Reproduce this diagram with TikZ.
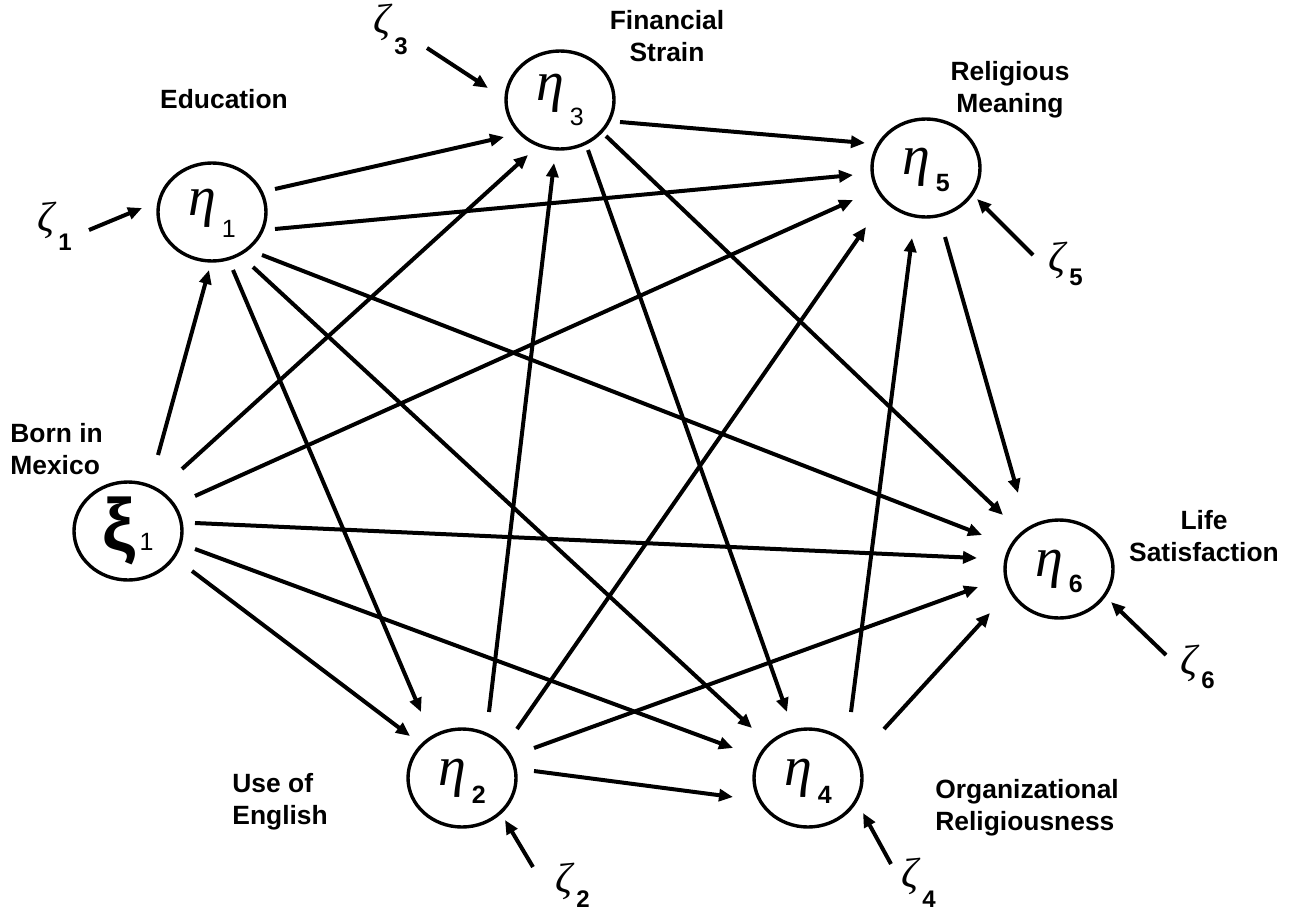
\documentclass[tikz,border=0pt]{standalone}
\usepackage{fontspec}
\setmainfont{Liberation Sans}
\newfontfamily\grk{Liberation Serif}
\usetikzlibrary{arrows.meta,calc,shapes.geometric}

\newcommand{\etav}[3]{\rule{0pt}{#3}{\fontsize{28}{28}\selectfont\grk\itshape η}\kern3pt\raisebox{-#2}{\fontsize{12.5}{12.5}\selectfont #1}}
\newcommand{\zetav}[2]{{\fontsize{21}{21}\selectfont\grk\itshape ζ}\kern2pt\raisebox{-#2}{\fontsize{12}{12}\selectfont\bfseries #1}}

\begin{document}
\begin{tikzpicture}[x=0.5pt,y=-0.5pt,
    latent/.style={draw,ellipse,line width=1.7pt,minimum width=54pt,minimum height=49pt,inner sep=0pt},
    lbl/.style={font=\fontsize{13.2}{16}\selectfont\bfseries,align=center,inner sep=0pt},
    dist/.style={inner sep=0pt,anchor=base west},
    arr/.style={-{Triangle[length=7pt,width=6pt]},line width=2pt}]
    \fill[white] (0,0) rectangle (1304,915);
    \useasboundingbox (0,0) rectangle (1304,915);

    % Latent variables
    \node[latent] (x1) at (128,531) {\rule[-7pt]{0pt}{0pt}{\fontsize{37}{37}\selectfont\bfseries ξ}\kern2pt{\fontsize{12.5}{12.5}\selectfont 1}};
    \node[latent] (e1) at (212,212) {\etav{1}{11pt}{14pt}};
    \node[latent] (e2) at (462,778) {\etav{\bfseries 2}{9pt}{16pt}};
    \node[latent] (e3) at (560,100) {\etav{3}{12.5pt}{10pt}};
    \node[latent] (e4) at (808,778) {\etav{\bfseries 4}{9pt}{16pt}};
    \node[latent] (e5) at (926,168) {\etav{\bfseries 5}{8.5pt}{15.5pt}};
    \node[latent] (e6) at (1059,569) {\etav{\bfseries 6}{8pt}{16pt}};

    % Disturbances
    \node[dist] (z1) at (37,231) {\zetav{1}{9.5pt}};
    \node[dist] (z2) at (555,892) {\zetav{2}{7.5pt}};
    \node[dist] (z3) at (373,34) {\zetav{3}{10.5pt}};
    \node[dist] (z4) at (901,887) {\zetav{4}{10pt}};
    \node[dist] (z5) at (1048,271) {\zetav{5}{7pt}};
    \node[dist] (z6) at (1180,674) {\zetav{6}{7pt}};

    % Names
    \node[lbl] (edu) at (224,99) {Education};
    \node[lbl] (fin) at (667,36) {Financial\\Strain};
    \node[lbl] (rel) at (1010,90) {Religious\\Meaning};
    \node[lbl,align=left,anchor=west] (bor) at (10,449) {Born in\\Mexico};
    \node[lbl,align=left,anchor=west] (eng) at (232,802) {Use of\\English};
    \node[lbl,align=left,anchor=west] (org) at (935,808) {Organizational\\Religiousness};
    \node[lbl] (lif) at (1204,536) {Life\\Satisfaction};

    % Paths from xi_1
    \draw[arr] ($(x1)+(30,-76)$) -- ($(e1)+(-3,58)$);
    \draw[arr] ($(x1)+(54,-62)$) -- ($(e3)+(-32,55)$);
    \draw[arr] ($(x1)+(67,-35)$) -- ($(e5)+(-73,32)$);
    \draw[arr] ($(x1)+(67,-8)$) -- ($(e6)+(-82,-11)$);
    \draw[arr] ($(x1)+(67,18)$) -- ($(e4)+(-75,-30)$);
    \draw[arr] ($(x1)+(64,40)$) -- ($(e2)+(-52,-42)$);
    % Paths from eta_1
    \draw[arr] ($(e1)+(63,-23)$) -- ($(e3)+(-56,37)$);
    \draw[arr] ($(e1)+(63,17)$) -- ($(e5)+(-73,7)$);
    \draw[arr] ($(e1)+(50,43)$) -- ($(e6)+(-77,-34)$);
    \draw[arr] ($(e1)+(41,55)$) -- ($(e4)+(-56,-50)$);
    \draw[arr] ($(e1)+(21,58)$) -- ($(e2)+(-41,-66)$);
    % Paths from eta_2
    \draw[arr] ($(e2)+(27,-66)$) -- ($(e3)+(-6,63)$);
    \draw[arr] ($(e2)+(55,-49)$) -- ($(e5)+(-60,59)$);
    \draw[arr] ($(e2)+(72,-30)$) -- ($(e6)+(-81,18)$);
    \draw[arr] ($(e2)+(72,-7)$) -- ($(e4)+(-75,19)$);
    % Paths from eta_3, eta_4, eta_5
    \draw[arr] ($(e3)+(60,22)$) -- ($(e5)+(-61,-25)$);
    \draw[arr] ($(e3)+(46,36)$) -- ($(e6)+(-56,-54)$);
    \draw[arr] ($(e3)+(28,50)$) -- ($(e4)+(-21,-66)$);
    \draw[arr] ($(e4)+(43,-66)$) -- ($(e5)+(-14,70)$);
    \draw[arr] ($(e4)+(76,-49)$) -- ($(e6)+(-69,44)$);
    \draw[arr] ($(e5)+(19,69)$) -- ($(e6)+(-41,-76)$);

    % Disturbance paths
    \draw[arr] ($(z1.base west)+(52,-1)$) -- ($(e1)+(-70,-4)$);
    \draw[arr] ($(z2.base west)+(-22,-25)$) -- ($(e2)+(43,42)$);
    \draw[arr] ($(z3.base west)+(54,14)$) -- ($(e3)+(-72,-12)$);
    \draw[arr] ($(z4.base west)+(-10,-23)$) -- ($(e4)+(55,35)$);
    \draw[arr] ($(z5.base west)+(-15,-16)$) -- ($(e5)+(51,31)$);
    \draw[arr] ($(z6.base west)+(-14,-19)$) -- ($(e6)+(52,33)$);
\end{tikzpicture}
\end{document}
